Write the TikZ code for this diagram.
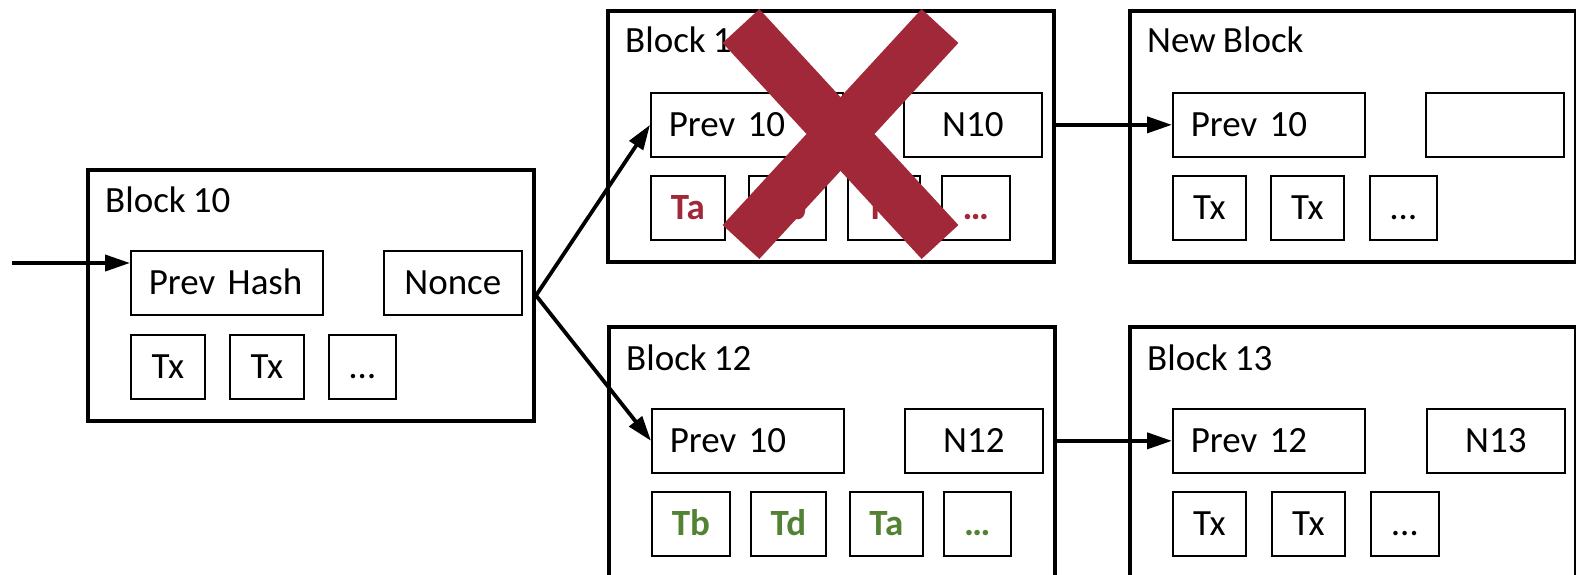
\documentclass[tikz,border=0pt]{standalone}
\usepackage{fontspec}
\setmainfont[WordSpace=0.85]{Carlito}
\usetikzlibrary{arrows.meta}
\definecolor{xred}{RGB}{161,40,56}
\definecolor{tgreen}{RGB}{84,130,53}
\begin{document}
\begin{tikzpicture}[x=1pt,y=-1pt,
  every node/.style={font=\fontsize{37pt}{40pt}\selectfont, inner sep=0pt},
  blockbox/.style={draw, line width=4pt, minimum width=446pt, minimum height=#1, anchor=north west},
  blockbox/.default=251pt,
  blocktitle/.style={anchor=base west},
  field/.style={draw, line width=1.7pt, minimum height=64pt, anchor=north west,
                text height=23.5pt, text depth=0pt},
  hashfield/.style={field, minimum width=192pt, text width=156pt, align=left, inner xsep=18pt},
  noncefield/.style={field, minimum width=138pt},
  txfield/.style={field, minimum width=#1},
  badtx/.style={font=\fontsize{37pt}{40pt}\selectfont\bfseries, text=xred},
  goodtx/.style={font=\fontsize{37pt}{40pt}\selectfont\bfseries, text=tgreen},
  link/.style={line width=3.8pt, -{Triangle[length=25pt,width=16pt]}},
  cross/.style={line width=50pt, xred, line cap=butt}
]
\useasboundingbox (0,0) rectangle (1576,575);
\clip (0,0) rectangle (1576,575);

% Block 10
\begin{scope}[shift={(86,168)}]
  \node[blockbox] (b10) at (0,0) {};
  \node[blocktitle] (t10) at (19,44) {Block 10};
  \node[hashfield] (ph10) at (44,82) {Prev Hash};
  \node[noncefield] (nc10) at (297,82) {Nonce};
  \node[txfield=74pt] (x10a) at (44,166) {Tx};
  \node[txfield=74pt] (x10b) at (143,166) {Tx};
  \node[txfield=67pt] (x10c) at (242,166) {…};
\end{scope}

% Block 11 (orphaned)
\begin{scope}[shift={(606,9)}]
  \node[blockbox] (b11) at (0,0) {};
  \node[blocktitle] (t11) at (19,44) {Block 11};
  \node[hashfield] (ph11) at (44,83) {Prev 10};
  \node[noncefield] (nc11) at (297,83) {N10};
  \node[txfield=74pt, badtx] (x11a) at (44,166) {Ta};
  \node[txfield=77pt, badtx] (x11b) at (142,166) {Tb};
  \node[txfield=72pt, badtx] (x11c) at (241,166) {Td};
  \node[txfield=68pt, badtx] (x11d) at (335,166) {…};
\end{scope}

% New Block
\begin{scope}[shift={(1128,9)}]
  \node[blockbox] (bnew) at (0,0) {};
  \node[blocktitle] (tnew) at (19,44) {New Block};
  \node[hashfield] (phnew) at (44,83) {Prev 10};
  \node[noncefield] (ncnew) at (297,83) {};
  \node[txfield=73pt] (xnewa) at (44,166) {Tx};
  \node[txfield=73pt] (xnewb) at (142,166) {Tx};
  \node[txfield=67pt] (xnewc) at (241,166) {…};
\end{scope}

% Block 12
\begin{scope}[shift={(607,325)}]
  \node[blockbox=262pt] (b12) at (0,0) {};
  \node[blocktitle] (t12) at (19,45) {Block 12};
  \node[hashfield] (ph12) at (44,83) {Prev 10};
  \node[noncefield] (nc12) at (297,83) {N12};
  \node[txfield=78pt, goodtx] (x12a) at (44,166) {Tb};
  \node[txfield=75pt, goodtx] (x12b) at (143,166) {Td};
  \node[txfield=73pt, goodtx] (x12c) at (242,166) {Ta};
  \node[txfield=67pt, goodtx] (x12d) at (336,166) {…};
\end{scope}

% Block 13
\begin{scope}[shift={(1128,325)}]
  \node[blockbox=262pt] (b13) at (0,0) {};
  \node[blocktitle] (t13) at (19,45) {Block 13};
  \node[hashfield] (ph13) at (44,83) {Prev 12};
  \node[noncefield] (nc13) at (298,83) {N13};
  \node[txfield=73pt] (x13a) at (44,166) {Tx};
  \node[txfield=73pt] (x13b) at (143,166) {Tx};
  \node[txfield=68pt] (x13c) at (242,166) {…};
\end{scope}

% Hash links
\coordinate (chain) at (12,263);
\draw[link] (chain) -- (chain -| ph10.west);
\draw[link] (b10.east) -- (ph11.west);
\draw[link] (b10.east) -- (ph12.west);
\draw[link] (b11.east |- phnew.west) -- (phnew.west);
\draw[link] (b12.east |- ph13.west) -- (ph13.west);

% Rejected block marker
\coordinate (xa) at (741,26);
\coordinate (xb) at (940,242);
\coordinate (xc) at (940,26);
\coordinate (xd) at (741,242);
\draw[cross] (xa) -- (xb) (xc) -- (xd);
\end{tikzpicture}
\end{document}
